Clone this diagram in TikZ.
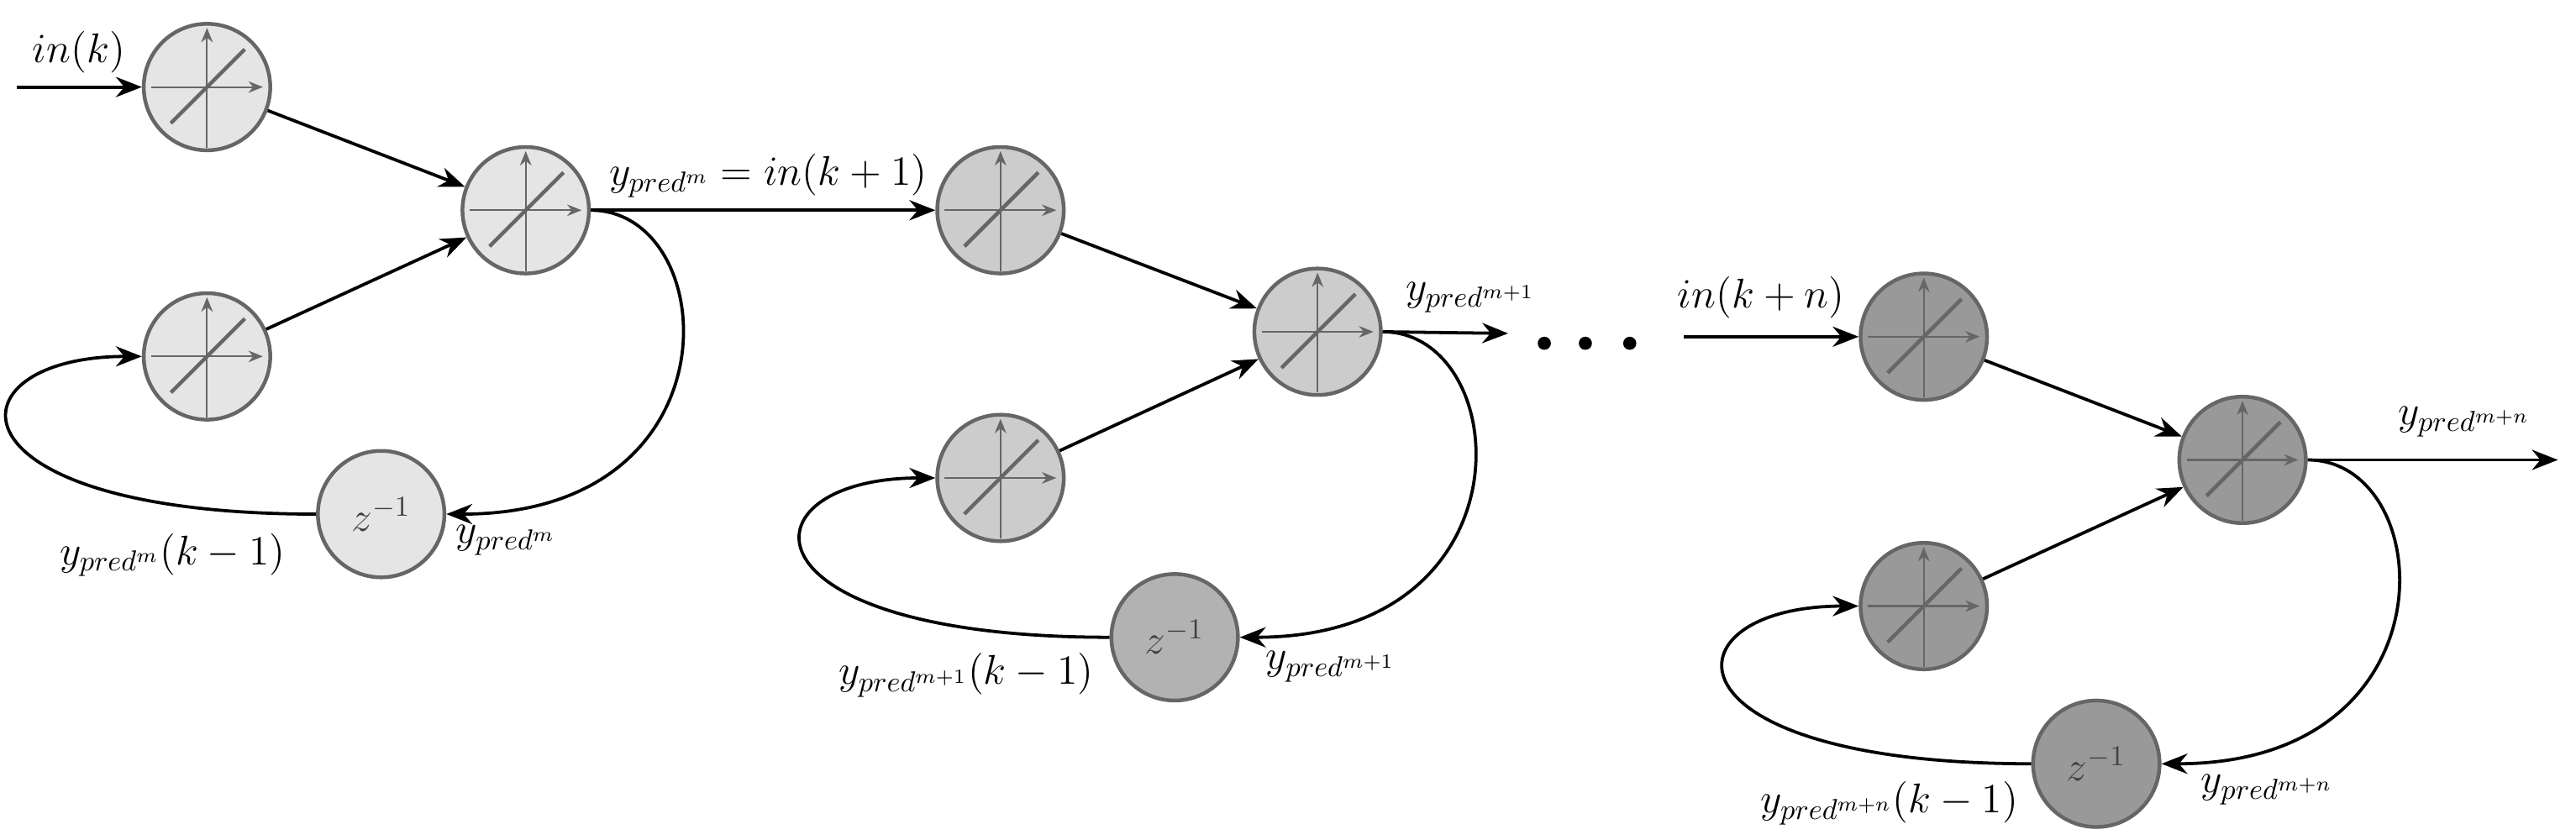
\documentclass[tikz,border=0pt]{standalone}
\usepackage{amsmath}
\usetikzlibrary{arrows.meta}

\begin{document}
\begin{tikzpicture}
[conn/.style={-{Stealth[length=9pt,width=7pt]},black,line width=1.1pt},
 unit/.style={circle,draw=black!60,line width=1.3pt,minimum size=1.54cm,inner sep=0pt},
 neuron/.style={unit,path picture={
   \begin{scope}[shift={(path picture bounding box.center)}]
   \draw[-{Stealth[length=5pt,width=4pt]},line width=0.6pt] (-0.68,0) -- (0.68,0);
   \draw[-{Stealth[length=5pt,width=4pt]},line width=0.6pt] (0,-0.74) -- (0,0.72);
   \draw[line width=1.3pt] (-0.44,-0.44) -- (0.46,0.46);
   \end{scope}}},
 delay/.style={unit,text=black!75,font=\Large},
 lbl/.style={font=\Large}]

\useasboundingbox (0,0) rectangle (31.36,10.22);

% first stage
\node[neuron,fill=black!10](a1) at (2.52,9.16){};
\node[neuron,fill=black!10](b1) at (2.52,5.88){};
\node[neuron,fill=black!10](c1) at (6.4,7.66){};
\node[delay,fill=black!10](z1) at (4.64,3.96){$z^{-1}$};
\coordinate (in1) at (0.2,9.16);
\node[lbl](tin1) at (0.96,9.58){$in(k)$};
\draw[conn] (in1) -- (a1);
\draw[conn] (a1) -- (c1);
\draw[conn] (b1) -- (c1);
\draw[conn] (c1.east) .. controls +(1.6,0) and +(3.6,0) .. (z1.east);
\draw[conn] (z1.west) .. controls +(-4.6,0) and +(-2.4,0) .. (b1.west);
\node[lbl](tz1l) at (2.1,3.46){$y_{pred^m}(k-1)$};
\node[lbl](tz1r) at (6.16,3.64){$y_{pred^m}$};

% second stage
\node[neuron,fill=black!20](a2) at (12.18,7.66){};
\node[neuron,fill=black!20](b2) at (12.18,4.4){};
\node[neuron,fill=black!20](c2) at (16.04,6.18){};
\node[delay,fill=black!30](z2) at (14.3,2.46){$z^{-1}$};
\draw[conn] (c1) -- (a2);
\node[lbl](teq) at (9.35,8.08){$y_{pred^m}=in(k+1)$};
\draw[conn] (a2) -- (c2);
\draw[conn] (b2) -- (c2);
\draw[conn] (c2.east) .. controls +(1.6,0) and +(3.6,0) .. (z2.east);
\draw[conn] (z2.west) .. controls +(-4.6,0) and +(-2.4,0) .. (b2.west);
\node[lbl](tz2l) at (11.76,2.0){$y_{pred^{m+1}}(k-1)$};
\node[lbl](tz2r) at (16.2,2.1){$y_{pred^{m+1}}$};
\coordinate (out2) at (18.36,6.16);
\draw[conn] (c2.east) -- (out2);
\node[lbl](tout2) at (17.9,6.6){$y_{pred^{m+1}}$};

% dots
\fill (18.8,6.04) circle (0.08);
\fill (19.3,6.04) circle (0.08);
\fill (19.84,6.04) circle (0.08);

% last stage
\node[neuron,fill=black!40](a3) at (23.42,6.12){};
\node[neuron,fill=black!40](b3) at (23.42,2.84){};
\node[neuron,fill=black!40](c3) at (27.3,4.62){};
\node[delay,fill=black!40](z3) at (25.52,0.92){$z^{-1}$};
\coordinate (in3) at (20.5,6.12);
\node[lbl](tin3) at (21.44,6.6){$in(k+n)$};
\draw[conn] (in3) -- (a3);
\draw[conn] (a3) -- (c3);
\draw[conn] (b3) -- (c3);
\draw[conn] (c3.east) .. controls +(1.6,0) and +(3.6,0) .. (z3.east);
\draw[conn] (z3.west) .. controls +(-4.6,0) and +(-2.4,0) .. (b3.west);
\node[lbl](tz3l) at (23.0,0.44){$y_{pred^{m+n}}(k-1)$};
\node[lbl](tz3r) at (27.6,0.6){$y_{pred^{m+n}}$};
\coordinate (out3) at (31.14,4.62);
\draw[conn] (c3.east) -- (out3);
\node[lbl](tout3) at (30.0,5.08){$y_{pred^{m+n}}$};

\end{tikzpicture}
\end{document}
